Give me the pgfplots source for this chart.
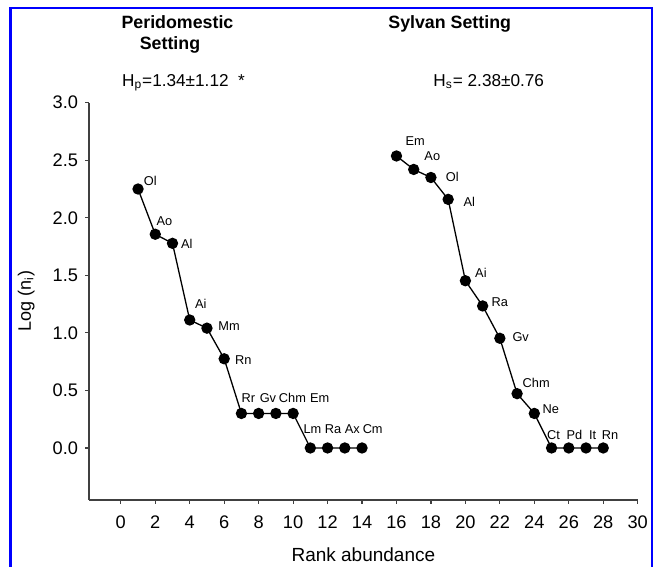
\documentclass[border=0pt]{standalone}
\usepackage{pgfplots}
\pgfplotsset{compat=1.18}
\usepackage{fontspec}
\setmainfont{Liberation Sans}
\begin{document}
\begin{tikzpicture}
\useasboundingbox (0,0) rectangle (326.5pt,283.5pt);
\begin{axis}[
  at={(44.5pt,33.5pt)}, anchor=south west,
  width=274.35pt, height=198.65pt, scale only axis,
  xmin=-1.846, xmax=30, ymin=-0.452, ymax=3,
  axis lines=left, axis line style={-, black!75, line width=0.7pt},
  xtick={0,2,...,30}, ytick={0,0.5,...,3},
  tick align=outside, major tick length=2pt,
  tick style={black!75, line width=0.6pt},
  /pgf/number format/assume math mode=true,
  y tick label style={/pgf/number format/fixed, /pgf/number format/fixed zerofill, /pgf/number format/precision=1},
  tick label style={font=\fontsize{9.1}{10}\selectfont},
  xticklabel style={yshift=-2.6pt},
  clip=false,
]
\addplot[black, line width=0.65pt, mark=*, mark size=2.5pt, mark options={solid, fill=black}] coordinates {
(1,2.25) (2,1.857) (3,1.778) (4,1.112) (5,1.041) (6,0.775) (7,0.30) (8,0.30) (9,0.30) (10,0.30) (11,0) (12,0) (13,0) (14,0)
};
\addplot[black, line width=0.65pt, mark=*, mark size=2.5pt, mark options={solid, fill=black}] coordinates {
(16,2.537) (17,2.42) (18,2.35) (19,2.16) (20,1.453) (21,1.234) (22,0.953) (23,0.472) (24,0.30) (25,0) (26,0) (27,0) (28,0)
};
\begin{scope}[every node/.style={font=\fontsize{6.4}{8}\selectfont, inner sep=0pt}]
\node at (axis cs:1.713,2.320) {Ol};
\node at (axis cs:2.538,1.972) {Ao};
\node at (axis cs:3.826,1.770) {Al};
\node at (axis cs:4.646,1.251) {Ai};
\node at (axis cs:6.283,1.063) {Mm};
\node at (axis cs:7.115,0.765) {Rn};
\node at (axis cs:7.40,0.432) {Rr};
\node at (axis cs:8.54,0.432) {Gv};
\node at (axis cs:9.96,0.432) {Chm};
\node at (axis cs:11.55,0.432) {Em};
\node at (axis cs:11.12,0.162) {Lm};
\node at (axis cs:12.32,0.162) {Ra};
\node at (axis cs:13.44,0.162) {Ax};
\node at (axis cs:14.62,0.162) {Cm};
\node at (axis cs:17.09,2.670) {Em};
\node at (axis cs:18.08,2.537) {Ao};
\node at (axis cs:19.24,2.352) {Ol};
\node at (axis cs:20.23,2.140) {Al};
\node at (axis cs:20.9,1.523) {Ai};
\node at (axis cs:22.0,1.271) {Ra};
\node at (axis cs:23.21,0.962) {Gv};
\node at (axis cs:24.11,0.562) {Chm};
\node at (axis cs:24.95,0.341) {Ne};
\node at (axis cs:25.12,0.113) {Ct};
\node at (axis cs:26.33,0.113) {Pd};
\node at (axis cs:27.39,0.113) {It};
\node at (axis cs:28.39,0.113) {Rn};
\end{scope}
\end{axis}
\begin{scope}[every node/.style={font=\bfseries\fontsize{8.9}{10}\selectfont, inner sep=0pt, anchor=base}]
\node at (88.75pt,269.35pt) {Peridomestic};
\node at (85pt,258.85pt) {Setting};
\node at (224.85pt,269.35pt) {Sylvan Setting};
\end{scope}
\node[anchor=base west, inner sep=0pt, font=\fontsize{8.6}{10}\selectfont] at (60.85pt,240.3pt) {H\textsubscript{p}=1.34±1.12\ \ *};
\node[anchor=base west, inner sep=0pt, font=\fontsize{8.6}{10}\selectfont] at (216.5pt,240.3pt) {H\textsubscript{s}= 2.38±0.76};
\node[anchor=base, inner sep=0pt, font=\fontsize{9.5}{11}\selectfont] at (181.7pt,2.65pt) {Rank abundance};
\node[rotate=90, anchor=base, inner sep=0pt, font=\fontsize{9}{11}\selectfont] at (15.5pt,133pt) {Log (n\textsubscript{i})};
\draw[blue, line width=1.4pt] (5.25pt,-1pt) -- (5.25pt,279.5pt) -- (326pt,279.5pt) -- (326pt,-1pt);
\end{tikzpicture}
\end{document}
